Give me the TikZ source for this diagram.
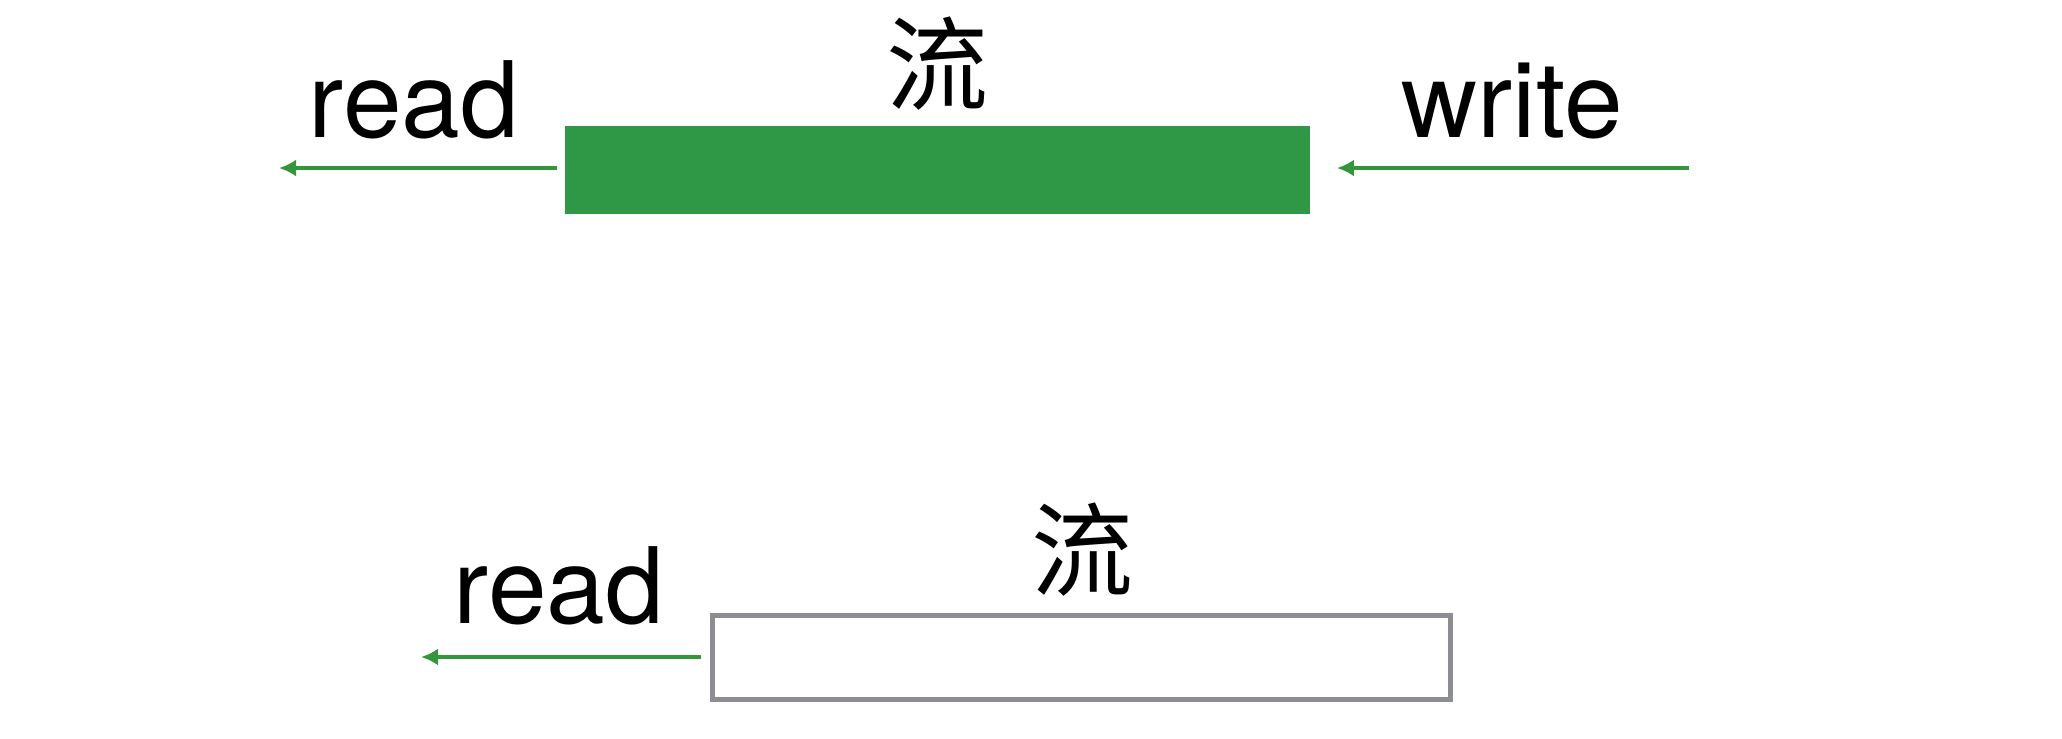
\documentclass[tikz,border=0pt]{standalone}
\usepackage{fontspec}
\setmainfont{TeX Gyre Heros}
\newfontfamily\cjk{Noto Sans CJK SC}
\usepackage{xcolor}
\usepackage{tikz}
\usetikzlibrary{arrows.meta, positioning}
\definecolor{streamgreen}{RGB}{46, 152, 70}
\definecolor{arrowgreen}{RGB}{52, 150, 60}
\definecolor{emptygray}{RGB}{140, 142, 147}
\tikzset{
    fullbar/.style ={draw=none, fill=streamgreen, inner sep=0pt,
                     minimum width=7.45cm, minimum height=0.88cm},
    emptybar/.style={draw=emptygray, line width=0.05cm, fill=white, inner sep=0pt,
                     minimum width=7.38cm, minimum height=0.84cm},
    ar/.style      ={-{Latex[length=0.17cm, width=0.17cm]}, line width=0.035cm, draw=arrowgreen},
    lbl/.style     ={font=\fontsize{30}{35}\selectfont, inner sep=0pt, anchor=base},
    cjklbl/.style  ={font=\cjk\fontsize{29}{34}\selectfont, inner sep=0pt}
}

\begin{document}
\begin{tikzpicture}[x=0.01cm, y=-0.01cm]
  \useasboundingbox (0,0) rectangle (2062,738);

  % stream with data: read on the left, write on the right
  \node[fullbar] (full) at (937.5,170) {};
  \node[cjklbl] (fulltag) at (937,64) {流};
  \node[lbl] (fullread) at (414,137) {read};
  \node[lbl] (fullwrite) at (1512,137) {write};
  \coordinate (readend) at (279,168);
  \coordinate (writestart) at (1689,168);
  \draw[ar] ([xshift=-0.07cm]full.west |- readend) -- (readend);
  \draw[ar] (writestart) -- ([xshift=0.26cm]full.east |- writestart);

  % empty stream, read only
  \node[emptybar] (empty) at (1081.5,657.5) {};
  \node[cjklbl] (emptytag) at (1082,550) {流};
  \node[lbl] (emptyread) at (559,623) {read};
  \coordinate (readend2) at (421,657);
  \draw[ar] ([xshift=-0.09cm]empty.west |- readend2) -- (readend2);
\end{tikzpicture}
\end{document}
